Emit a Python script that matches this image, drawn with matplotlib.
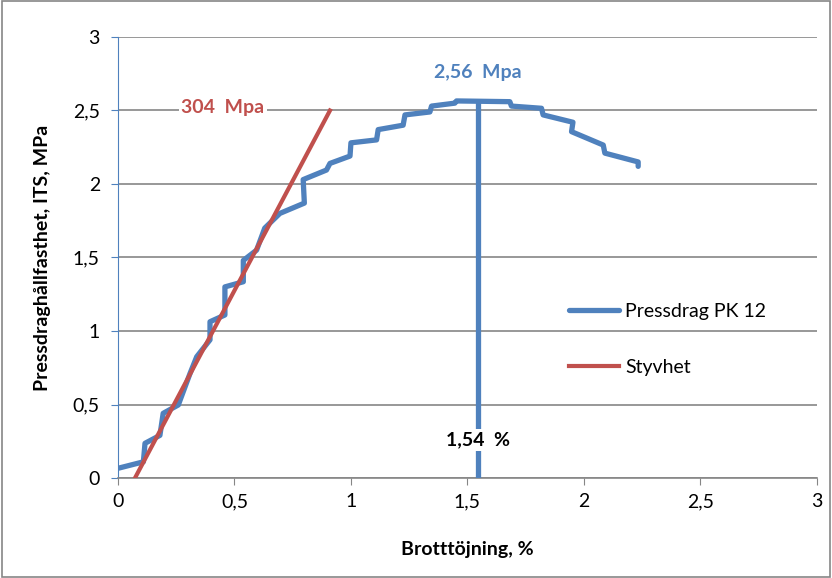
import matplotlib.pyplot as plt
import numpy as np

plt.rcParams['font.family'] = ['Lato', 'DejaVu Sans']

# Pressdrag PK 12
tojning = [0.0, 0.109, 0.116, 0.18, 0.194, 0.259, 0.309, 0.338, 0.395, 0.395, 0.459,
           0.459, 0.538, 0.538, 0.595, 0.63, 0.695, 0.80, 0.795, 0.895, 0.91, 0.996,
           1.0, 1.11, 1.117, 1.224, 1.232, 1.339, 1.346, 1.446, 1.453, 1.682, 1.689,
           1.818, 1.825, 1.953, 1.947, 2.083, 2.09, 2.233, 2.233]
its = [0.066, 0.11, 0.236, 0.29, 0.44, 0.497, 0.71, 0.825, 0.94, 1.063, 1.109,
       1.30, 1.335, 1.48, 1.55, 1.70, 1.80, 1.87, 2.03, 2.095, 2.14, 2.19,
       2.28, 2.30, 2.37, 2.40, 2.47, 2.49, 2.53, 2.55, 2.565, 2.56, 2.53,
       2.515, 2.47, 2.42, 2.356, 2.265, 2.21, 2.15, 2.12]

# Styvhet
styv_x = [0.073, 0.91]
styv_y = [0.0, 2.5]

max_x = 1.545
max_its = 2.56

BLUE = "#4F81BD"
RED = "#C0504D"

fig = plt.figure(figsize=(8.32, 5.78), dpi=100)
ax = fig.add_axes([0.1418, 0.173, 0.840, 0.763])

ax.plot(tojning, its, color=BLUE, linewidth=3.8, solid_joinstyle="round",
        solid_capstyle="round", label="Pressdrag PK 12", zorder=3)
ax.plot(styv_x, styv_y, color=RED, linewidth=3.0, label="Styvhet", zorder=4)
ax.plot([max_x, max_x], [-0.02, max_its], color=BLUE, linewidth=3.8, zorder=3)

ax.set_xlim(0, 3)
ax.set_ylim(0, 3)
ticks = [0, 0.5, 1, 1.5, 2, 2.5, 3]
labels = ["0", "0,5", "1", "1,5", "2", "2,5", "3"]
ax.set_xticks(ticks)
ax.set_xticklabels(labels)
ax.set_yticks(ticks)
ax.set_yticklabels(labels)
ax.tick_params(labelsize=14, length=5)
ax.tick_params(axis="y", colors=BLUE, labelcolor="black", pad=8)
ax.tick_params(axis="x", colors="#868686", labelcolor="black", pad=6)

ax.yaxis.grid(True, color="#868686", linewidth=1.2)
ax.set_axisbelow(True)
for s in ["top", "right"]:
    ax.spines[s].set_visible(False)
ax.spines["left"].set_color(BLUE)
ax.spines["bottom"].set_color("#868686")
ax.spines["bottom"].set_linewidth(1.2)

ax.set_xlabel("Brotttöjning, %", fontsize=14, fontweight="bold", labelpad=22)
ax.set_ylabel("Pressdraghållfasthet, ITS, MPa", fontsize=14, fontweight="bold", labelpad=16)

ax.text(max_x, 2.76, "2,56  Mpa", color=BLUE, fontsize=14, fontweight="bold",
        ha="center", va="center")
ax.text(0.45, 2.52, "304  Mpa", color=RED, fontsize=14, fontweight="bold",
        ha="center", va="center", bbox=dict(facecolor="white", edgecolor="none", pad=2))
ax.text(max_x, 0.26, "1,54  %", color="black", fontsize=14, fontweight="bold",
        ha="center", va="center", zorder=5,
        bbox=dict(facecolor="white", edgecolor="none", pad=2))

ax.legend(loc="center left", bbox_to_anchor=(0.62, 0.315), frameon=False,
          fontsize=14, handlelength=2.6, labelspacing=2.0, handletextpad=0.3)

fig.patches.append(plt.Rectangle((0.002, 0.002), 0.996, 0.996, transform=fig.transFigure,
                                 fill=False, edgecolor="#868686", linewidth=1.2))

fig.savefig("out.png", dpi=100)
